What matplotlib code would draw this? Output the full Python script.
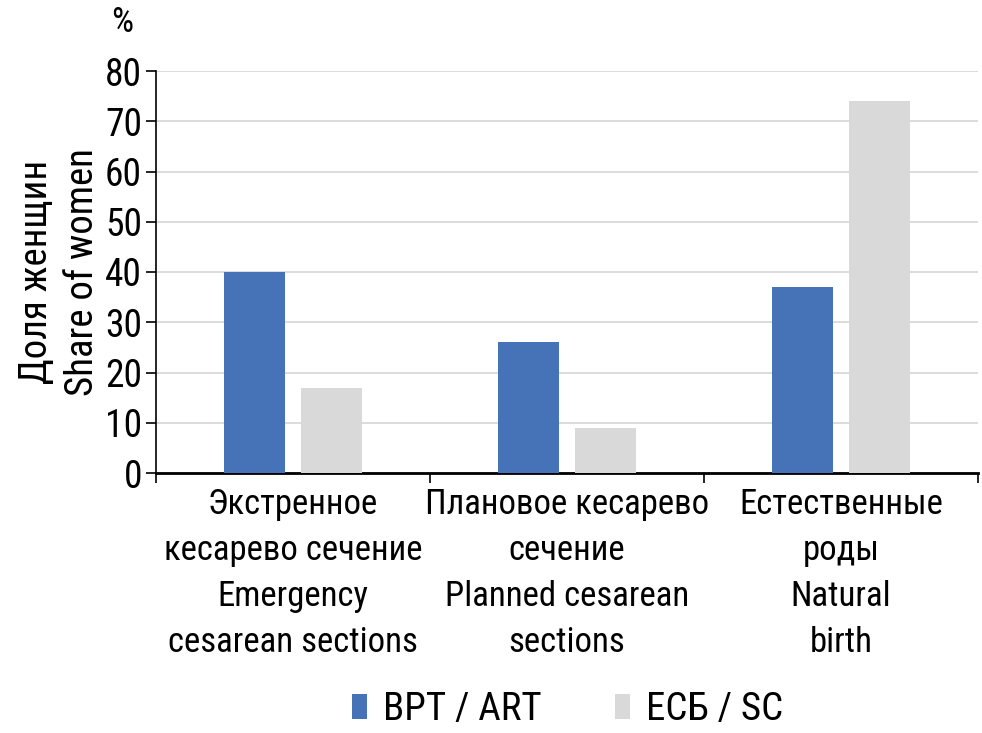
import numpy as np
import matplotlib.pyplot as plt

plt.rcParams['font.family'] = ['Roboto Condensed', 'DejaVu Sans']

categories = ['Экстренное\nкесарево сечение\nEmergency\ncesarean sections',
              'Плановое кесарево\nсечение\nPlanned cesarean\nsections',
              'Естественные\nроды\nNatural\nbirth']
art = [40, 26, 37]
sc = [17, 9, 74]
series_names = ['ВРТ / ART', 'ЕСБ / SC']
colors = ['#4672b7', '#d9d9d9']

fig = plt.figure(figsize=(9.82, 7.33), dpi=100)
ax = fig.add_axes([156 / 982, 1 - 473 / 733, (978 - 156) / 982, (473 - 71) / 733])

x = np.arange(len(categories))
w = 0.222
ax.bar(x - 0.142, art, w, color=colors[0], label=series_names[0], zorder=3)
ax.bar(x + 0.142, sc, w, color=colors[1], label=series_names[1], zorder=3)

ax.set_xlim(-0.5, 2.5)
ax.set_ylim(0, 80)
ax.set_yticks(range(0, 81, 10))
ax.tick_params(axis='y', labelsize=27, length=7, width=1.2, pad=3)
ax.yaxis.grid(True, color='#d9d9d9', linewidth=1.3, zorder=0)

ax.set_xticks([-0.5, 0.5, 1.5, 2.5])
ax.set_xticklabels([])
ax.set_xticks(x, minor=True)
ax.set_xticklabels(categories, minor=True, fontsize=25, linespacing=1.5)
ax.tick_params(axis='x', which='major', length=7, width=1.2)
ax.tick_params(axis='x', which='minor', length=0, pad=11)

for s in ['top', 'right']:
    ax.spines[s].set_visible(False)
ax.spines['left'].set_linewidth(1.2)
ax.spines['bottom'].set_linewidth(2)

ax.set_ylabel('Доля женщин\nShare of women', fontsize=28, linespacing=1.3, labelpad=3)
fig.text(122 / 982, 1 - 22 / 733, '%', fontsize=25, ha='center', va='center')

fig.legend(loc='center', bbox_to_anchor=(0.578, 1 - 710 / 733), ncol=2, frameon=False,
           fontsize=28, handlelength=0.39, handleheight=0.6, columnspacing=1.88,
           handletextpad=0.41)

fig.savefig('out.png', dpi=100)
